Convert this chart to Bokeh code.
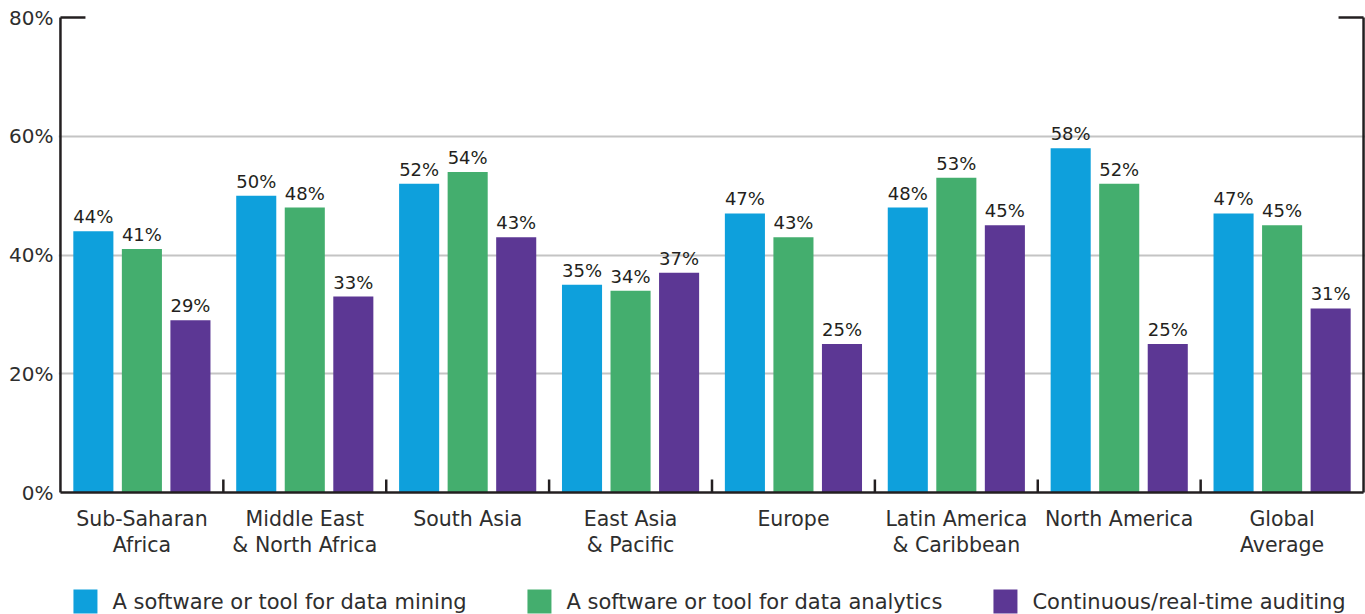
from bokeh.plotting import figure
from bokeh.models import ColumnDataSource, Range1d, FixedTicker, PrintfTickFormatter
from bokeh.core.properties import value
from bokeh.embed import file_html
from bokeh.resources import INLINE

# ---------------- data ----------------
categories = ["Sub-Saharan Africa", "Middle East & North Africa", "South Asia",
              "East Asia & Pacific", "Europe", "Latin America & Caribbean",
              "North America", "Global Average"]
label_line1 = ["Sub-Saharan", "Middle East", "South Asia", "East Asia", "Europe",
               "Latin America", "North America", "Global"]
label_line2 = ["Africa", "& North Africa", "", "& Pacific", "", "& Caribbean", "", "Average"]
series_names = ["A software or tool for data mining",
                "A software or tool for data analytics",
                "Continuous/real-time auditing"]
data_mining = [44, 50, 52, 35, 47, 48, 58, 47]
data_analytics = [41, 48, 54, 34, 43, 53, 52, 45]
realtime_auditing = [29, 33, 43, 37, 25, 45, 25, 31]
y_ticks = [0, 20, 40, 60, 80]
grid_lines = [20, 40, 60]
y_max = 80

# ---------------- style ----------------
colors = ["#0ea0dc", "#44ae6e", "#5c3794"]
FONT = "DejaVu Sans"
TEXT_COL = "#2e2e2e"
AXIS_COL = "#231f20"

W, H = 1365, 614
LEFT = 58
TOP_PX, BASE_PX = 17, 492
XPAD = 0.012
n = len(categories)
frame_w = W - LEFT
xpx = frame_w / (n + 2 * XPAD)          # pixels per category unit
ypx = (BASE_PX - TOP_PX) / y_max         # pixels per percent unit

p = figure(width=W, height=H, output_backend="svg", toolbar_location=None,
           x_range=Range1d(-XPAD, n + XPAD),
           y_range=Range1d(-(H - BASE_PX) / ypx, y_max + TOP_PX / ypx),
           x_axis_location=None,
           min_border_left=LEFT, min_border_right=0, min_border_top=0, min_border_bottom=0)
p.outline_line_color = None

series = [data_mining, data_analytics, realtime_auditing]
offsets = [-0.298, 0.0, 0.298]
centers = [i + 0.5 for i in range(n)]

for k in range(3):
    src = ColumnDataSource(dict(x=[c + offsets[k] for c in centers], top=series[k],
                                lab=[f"{v}%" for v in series[k]]))
    p.vbar(x="x", top="top", width=0.246, source=src, fill_color=colors[k], line_color=None)
    p.text(x="x", y="top", text="lab", source=src, text_align="center",
           text_baseline="bottom", y_offset=-4, text_font=value(FONT),
           text_font_size="18px", text_color="#231f20")

# axes lines (left, right, baseline)
p.segment(x0=[0, n, 0], y0=[0, 0, 0], x1=[0, n, n], y1=[y_max, y_max, 0],
          line_color=AXIS_COL, line_width=2.5)
# corner ticks at the top
tick_len = 25 / xpx
p.segment(x0=[0, n - tick_len], y0=[y_max, y_max], x1=[tick_len, n], y1=[y_max, y_max],
          line_color=AXIS_COL, line_width=2.5)
# boundary ticks on the baseline
bx = list(range(1, n))
p.segment(x0=bx, y0=[0] * len(bx), x1=bx, y1=[13 / ypx] * len(bx),
          line_color=AXIS_COL, line_width=2.5)

# category labels
csrc = ColumnDataSource(dict(x=centers, l1=label_line1, l2=label_line2))
p.text(x="x", y=0, text="l1", source=csrc, text_align="center", text_baseline="middle",
       y_offset=26, text_font=value(FONT), text_font_size="20.5px", text_color=TEXT_COL)
p.text(x="x", y=0, text="l2", source=csrc, text_align="center", text_baseline="middle",
       y_offset=52, text_font=value(FONT), text_font_size="20.5px", text_color=TEXT_COL)

# legend (drawn manually)
leg_px = [13, 467, 933]
leg_y = -109 / ypx
lsrc = ColumnDataSource(dict(x=[(v + 12) / xpx for v in leg_px], tx=[(v + 39) / xpx for v in leg_px],
                             y=[leg_y] * 3, c=colors, t=series_names))
p.rect(x="x", y="y", width=24, height=24, width_units="screen", height_units="screen",
       source=lsrc, fill_color="c", line_color=None)
p.text(x="tx", y="y", text="t", source=lsrc, text_align="left", text_baseline="middle",
       text_font=value(FONT), text_font_size="21px", text_color=TEXT_COL)

# y axis
p.yaxis.ticker = FixedTicker(ticks=y_ticks)
p.yaxis.formatter = PrintfTickFormatter(format="%d%%")
p.yaxis.axis_line_color = None
p.yaxis.major_tick_line_color = None
p.yaxis.major_tick_out = 0
p.yaxis.major_tick_in = 0
p.yaxis.minor_tick_line_color = None
p.yaxis.major_label_text_font = FONT
p.yaxis.major_label_text_font_size = "20px"
p.yaxis.major_label_text_color = TEXT_COL
p.yaxis.major_label_standoff = 5

p.xgrid.grid_line_color = None
p.ygrid.ticker = FixedTicker(ticks=grid_lines)
p.ygrid.grid_line_color = "#c4c4c4"
p.ygrid.grid_line_width = 2

open("out.html", "w").write(file_html(p, INLINE))
